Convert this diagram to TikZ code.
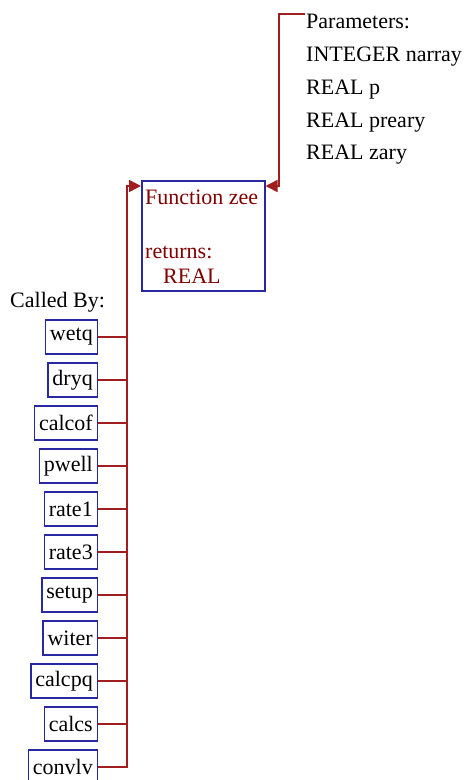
\documentclass[tikz,border=0pt]{standalone}
\usepackage{fontspec}
\setmainfont{Liberation Serif}
\usetikzlibrary{arrows.meta}
\definecolor{boxblue}{RGB}{40,40,160}
\definecolor{linered}{RGB}{160,30,30}
\definecolor{textred}{RGB}{128,0,0}
\begin{document}
\begin{tikzpicture}[x=1pt,y=-1pt,
  txt/.style={font=\fontsize{22}{26}\selectfont},
  caller/.style={txt, draw=boxblue, line width=1.5pt, anchor=east, minimum height=34pt, inner xsep=4.5pt, inner ysep=0pt},
  conn/.style={draw=linered, line width=1.5pt},
  arr/.style={conn, -{Triangle[length=12pt,width=12pt]}},
  lbl/.style={txt, anchor=base west, inner sep=0pt}]
\useasboundingbox (0,0) rectangle (468,780);
% main box
\node[draw=boxblue, line width=1.5pt, minimum width=123pt, minimum height=110pt, anchor=north west, inner sep=0pt] (main) at (141,180) {};
\node[lbl, text=textred] (fn) at (145,204) {Function zee};
\node[lbl, text=textred] (ret) at (145,258) {returns:};
\node[lbl, text=textred] (rtype) at (163,283) {REAL};
% parameters
\node[lbl] (p0) at (306,28) {Parameters:};
\node[lbl] (p1) at (306,61) {INTEGER narray};
\node[lbl] (p2) at (306,94) {REAL p};
\node[lbl] (p3) at (306,127) {REAL preary};
\node[lbl] (p4) at (306,159) {REAL zary};
\coordinate (pstart) at (305,14);
\coordinate (rcorner) at (279,14);
\coordinate (rlow) at (279,186);
\draw[arr] (pstart) -- (rcorner) -- (rlow) -- (rlow -| main.east);
% called by
\node[lbl] (cb) at (10,307) {Called By:};
\coordinate (ltop) at (127,186);
\coordinate (lbot) at (127,768);
\foreach \n/\t [count=\i from 0] in {c1/wetq,c2/dryq,c3/calcof,c4/pwell,c5/rate1,c6/rate3,c7/setup,c8/witer,c9/calcpq,c10/calcs,c11/convlv}{
  \node[caller] (\n) at (98,{337+43*\i}) {\t};
  \draw[conn] (\n.east) -- (\n.east -| ltop);
}
\draw[arr] (lbot) -- (ltop) -- (ltop -| main.west);
\end{tikzpicture}
\end{document}
